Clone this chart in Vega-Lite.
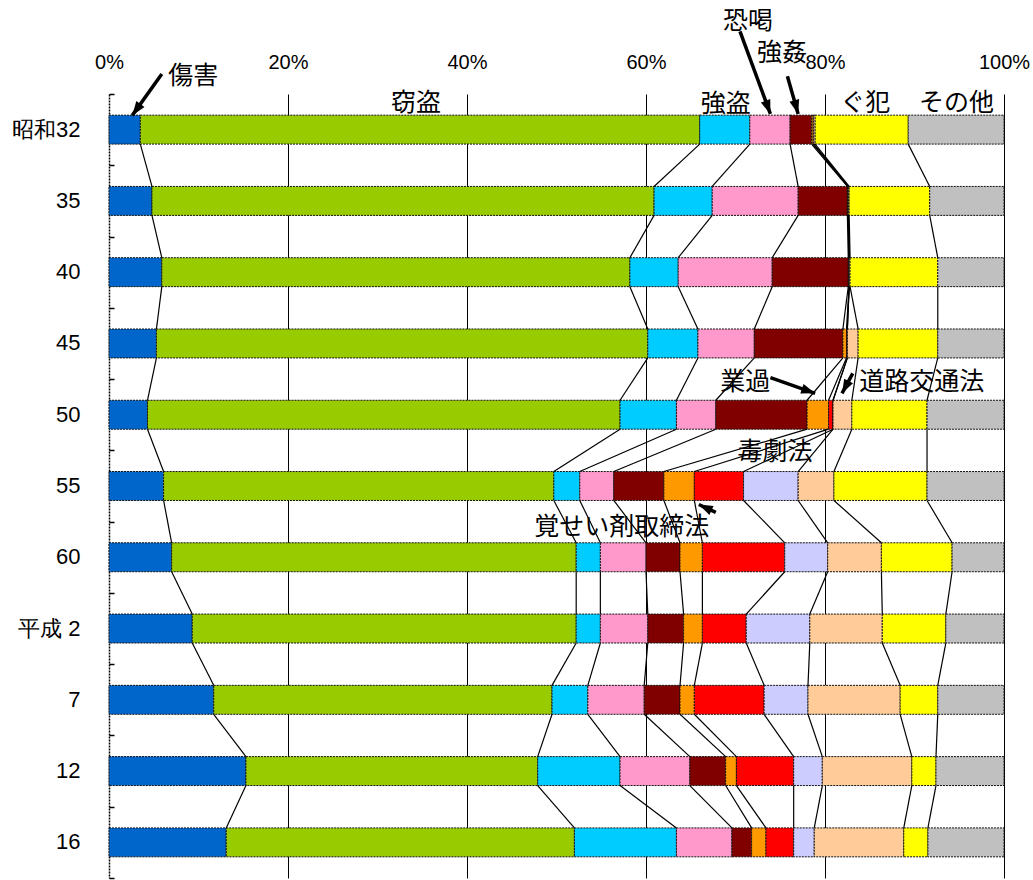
{
  "$schema": "https://vega.github.io/schema/vega-lite/v6.json",
  "width": 895,
  "height": 784,
  "autosize": {"type": "none"},
  "padding": {"left": 109, "top": 94, "right": 29, "bottom": 2},
  "background": "white",
  "config": {"view": {"stroke": null}, "font": "Liberation Sans"},
  "datasets": {
    "shares": [
      {"year":"昭和32","r":0,"cat":"傷害","k":0,"v":3.5},{"year":"昭和32","r":0,"cat":"窃盗","k":1,"v":62.5},{"year":"昭和32","r":0,"cat":"強盗","k":2,"v":5.6},{"year":"昭和32","r":0,"cat":"恐喝","k":3,"v":4.5},{"year":"昭和32","r":0,"cat":"強姦","k":4,"v":2.4},{"year":"昭和32","r":0,"cat":"業過","k":5,"v":0.2},{"year":"昭和32","r":0,"cat":"覚せい剤取締法","k":6,"v":0},{"year":"昭和32","r":0,"cat":"毒劇法","k":7,"v":0},{"year":"昭和32","r":0,"cat":"道路交通法","k":8,"v":0.2},{"year":"昭和32","r":0,"cat":"ぐ犯","k":9,"v":10.4},{"year":"昭和32","r":0,"cat":"その他","k":10,"v":10.7},
      {"year":"35","r":1,"cat":"傷害","k":0,"v":4.8},{"year":"35","r":1,"cat":"窃盗","k":1,"v":56.1},{"year":"35","r":1,"cat":"強盗","k":2,"v":6.5},{"year":"35","r":1,"cat":"恐喝","k":3,"v":9.6},{"year":"35","r":1,"cat":"強姦","k":4,"v":5.5},{"year":"35","r":1,"cat":"業過","k":5,"v":0.1},{"year":"35","r":1,"cat":"覚せい剤取締法","k":6,"v":0},{"year":"35","r":1,"cat":"毒劇法","k":7,"v":0},{"year":"35","r":1,"cat":"道路交通法","k":8,"v":0.1},{"year":"35","r":1,"cat":"ぐ犯","k":9,"v":9.0},{"year":"35","r":1,"cat":"その他","k":10,"v":8.3},
      {"year":"40","r":2,"cat":"傷害","k":0,"v":5.9},{"year":"40","r":2,"cat":"窃盗","k":1,"v":52.3},{"year":"40","r":2,"cat":"強盗","k":2,"v":5.4},{"year":"40","r":2,"cat":"恐喝","k":3,"v":10.5},{"year":"40","r":2,"cat":"強姦","k":4,"v":8.5},{"year":"40","r":2,"cat":"業過","k":5,"v":0.1},{"year":"40","r":2,"cat":"覚せい剤取締法","k":6,"v":0},{"year":"40","r":2,"cat":"毒劇法","k":7,"v":0},{"year":"40","r":2,"cat":"道路交通法","k":8,"v":0.1},{"year":"40","r":2,"cat":"ぐ犯","k":9,"v":9.8},{"year":"40","r":2,"cat":"その他","k":10,"v":7.4},
      {"year":"45","r":3,"cat":"傷害","k":0,"v":5.3},{"year":"45","r":3,"cat":"窃盗","k":1,"v":54.9},{"year":"45","r":3,"cat":"強盗","k":2,"v":5.6},{"year":"45","r":3,"cat":"恐喝","k":3,"v":6.3},{"year":"45","r":3,"cat":"強姦","k":4,"v":9.9},{"year":"45","r":3,"cat":"業過","k":5,"v":0.4},{"year":"45","r":3,"cat":"覚せい剤取締法","k":6,"v":0.1},{"year":"45","r":3,"cat":"毒劇法","k":7,"v":0},{"year":"45","r":3,"cat":"道路交通法","k":8,"v":1.2},{"year":"45","r":3,"cat":"ぐ犯","k":9,"v":8.9},{"year":"45","r":3,"cat":"その他","k":10,"v":7.4},
      {"year":"50","r":4,"cat":"傷害","k":0,"v":4.3},{"year":"50","r":4,"cat":"窃盗","k":1,"v":52.8},{"year":"50","r":4,"cat":"強盗","k":2,"v":6.3},{"year":"50","r":4,"cat":"恐喝","k":3,"v":4.4},{"year":"50","r":4,"cat":"強姦","k":4,"v":10.2},{"year":"50","r":4,"cat":"業過","k":5,"v":2.4},{"year":"50","r":4,"cat":"覚せい剤取締法","k":6,"v":0.5},{"year":"50","r":4,"cat":"毒劇法","k":7,"v":0},{"year":"50","r":4,"cat":"道路交通法","k":8,"v":2.1},{"year":"50","r":4,"cat":"ぐ犯","k":9,"v":8.4},{"year":"50","r":4,"cat":"その他","k":10,"v":8.6},
      {"year":"55","r":5,"cat":"傷害","k":0,"v":6.1},{"year":"55","r":5,"cat":"窃盗","k":1,"v":43.6},{"year":"55","r":5,"cat":"強盗","k":2,"v":2.9},{"year":"55","r":5,"cat":"恐喝","k":3,"v":3.8},{"year":"55","r":5,"cat":"強姦","k":4,"v":5.6},{"year":"55","r":5,"cat":"業過","k":5,"v":3.4},{"year":"55","r":5,"cat":"覚せい剤取締法","k":6,"v":5.5},{"year":"55","r":5,"cat":"毒劇法","k":7,"v":6.1},{"year":"55","r":5,"cat":"道路交通法","k":8,"v":4.0},{"year":"55","r":5,"cat":"ぐ犯","k":9,"v":10.4},{"year":"55","r":5,"cat":"その他","k":10,"v":8.6},
      {"year":"60","r":6,"cat":"傷害","k":0,"v":7.0},{"year":"60","r":6,"cat":"窃盗","k":1,"v":45.2},{"year":"60","r":6,"cat":"強盗","k":2,"v":2.7},{"year":"60","r":6,"cat":"恐喝","k":3,"v":5.1},{"year":"60","r":6,"cat":"強姦","k":4,"v":3.8},{"year":"60","r":6,"cat":"業過","k":5,"v":2.5},{"year":"60","r":6,"cat":"覚せい剤取締法","k":6,"v":9.2},{"year":"60","r":6,"cat":"毒劇法","k":7,"v":4.8},{"year":"60","r":6,"cat":"道路交通法","k":8,"v":6.0},{"year":"60","r":6,"cat":"ぐ犯","k":9,"v":7.9},{"year":"60","r":6,"cat":"その他","k":10,"v":5.8},
      {"year":"平成 2","r":7,"cat":"傷害","k":0,"v":9.3},{"year":"平成 2","r":7,"cat":"窃盗","k":1,"v":42.9},{"year":"平成 2","r":7,"cat":"強盗","k":2,"v":2.7},{"year":"平成 2","r":7,"cat":"恐喝","k":3,"v":5.3},{"year":"平成 2","r":7,"cat":"強姦","k":4,"v":4.0},{"year":"平成 2","r":7,"cat":"業過","k":5,"v":2.1},{"year":"平成 2","r":7,"cat":"覚せい剤取締法","k":6,"v":4.9},{"year":"平成 2","r":7,"cat":"毒劇法","k":7,"v":7.1},{"year":"平成 2","r":7,"cat":"道路交通法","k":8,"v":8.1},{"year":"平成 2","r":7,"cat":"ぐ犯","k":9,"v":7.1},{"year":"平成 2","r":7,"cat":"その他","k":10,"v":6.5},
      {"year":"7","r":8,"cat":"傷害","k":0,"v":11.7},{"year":"7","r":8,"cat":"窃盗","k":1,"v":37.8},{"year":"7","r":8,"cat":"強盗","k":2,"v":4.0},{"year":"7","r":8,"cat":"恐喝","k":3,"v":6.3},{"year":"7","r":8,"cat":"強姦","k":4,"v":4.0},{"year":"7","r":8,"cat":"業過","k":5,"v":1.6},{"year":"7","r":8,"cat":"覚せい剤取締法","k":6,"v":7.8},{"year":"7","r":8,"cat":"毒劇法","k":7,"v":4.9},{"year":"7","r":8,"cat":"道路交通法","k":8,"v":10.3},{"year":"7","r":8,"cat":"ぐ犯","k":9,"v":4.2},{"year":"7","r":8,"cat":"その他","k":10,"v":7.4},
      {"year":"12","r":9,"cat":"傷害","k":0,"v":15.3},{"year":"12","r":9,"cat":"窃盗","k":1,"v":32.6},{"year":"12","r":9,"cat":"強盗","k":2,"v":9.2},{"year":"12","r":9,"cat":"恐喝","k":3,"v":7.8},{"year":"12","r":9,"cat":"強姦","k":4,"v":4.0},{"year":"12","r":9,"cat":"業過","k":5,"v":1.2},{"year":"12","r":9,"cat":"覚せい剤取締法","k":6,"v":6.4},{"year":"12","r":9,"cat":"毒劇法","k":7,"v":3.2},{"year":"12","r":9,"cat":"道路交通法","k":8,"v":10.0},{"year":"12","r":9,"cat":"ぐ犯","k":9,"v":2.7},{"year":"12","r":9,"cat":"その他","k":10,"v":7.6},
      {"year":"16","r":10,"cat":"傷害","k":0,"v":13.1},{"year":"16","r":10,"cat":"窃盗","k":1,"v":38.9},{"year":"16","r":10,"cat":"強盗","k":2,"v":11.4},{"year":"16","r":10,"cat":"恐喝","k":3,"v":6.2},{"year":"16","r":10,"cat":"強姦","k":4,"v":2.2},{"year":"16","r":10,"cat":"業過","k":5,"v":1.6},{"year":"16","r":10,"cat":"覚せい剤取締法","k":6,"v":3.1},{"year":"16","r":10,"cat":"毒劇法","k":7,"v":2.3},{"year":"16","r":10,"cat":"道路交通法","k":8,"v":10.0},{"year":"16","r":10,"cat":"ぐ犯","k":9,"v":2.7},{"year":"16","r":10,"cat":"その他","k":10,"v":8.5}
    ],
    "notes": [
      {"label":"傷害","x":9.4,"row":-0.75},
      {"label":"窃盗","x":34.3,"row":-0.37},
      {"label":"強盗","x":68.9,"row":-0.36},
      {"label":"恐喝","x":71.4,"row":-1.53},
      {"label":"強姦","x":75.2,"row":-1.07},
      {"label":"ぐ犯","x":84.5,"row":-0.37},
      {"label":"その他","x":94.7,"row":-0.37},
      {"label":"業過","x":71.1,"row":3.54},
      {"label":"道路交通法","x":90.8,"row":3.54},
      {"label":"毒劇法","x":74.4,"row":4.52},
      {"label":"覚せい剤取締法","x":57.3,"row":5.57}
    ],
    "arrows": [
      {"for":"傷害","x":5.9,"row":-0.78,"x2":2.6,"row2":-0.2,"dir":215.5},
      {"for":"恐喝","x":70.5,"row":-1.38,"x2":73.9,"row2":-0.22,"dir":159.8},
      {"for":"強姦","x":75.8,"row":-0.75,"x2":77.0,"row2":-0.22,"dir":164.2},
      {"for":"業過","x":73.9,"row":3.48,"x2":78.9,"row2":3.7,"dir":109.3},
      {"for":"道路交通法","x":83.1,"row":3.42,"x2":81.9,"row2":3.7,"dir":208.2},
      {"for":"覚せい剤取締法","x":67.8,"row":5.37,"x2":65.9,"row2":5.26,"dir":294.9}
    ],
    "bounds": [
      {"b":-0.5},{"b":0.5},{"b":1.5},{"b":2.5},{"b":3.5},{"b":4.5},{"b":5.5},{"b":6.5},{"b":7.5},{"b":8.5},{"b":9.5},{"b":10.5}
    ]
  },
  "layer": [
    {
      "data": {"name": "shares"},
      "layer": [
        {
          "mark": {"type": "bar", "stroke": "#111111", "strokeWidth": 1, "strokeDash": [2, 1]},
          "encoding": {
            "y": {
              "field": "year", "type": "nominal",
              "scale": {"domain": ["昭和32","35","40","45","50","55","60","平成 2","7","12","16"], "paddingInner": 0.594, "paddingOuter": 0.297},
              "axis": {"title": null, "orient": "left", "labelFont": "Liberation Sans", "labelFontSize": 22, "labelColor": "black", "domain": true, "domainColor": "black", "domainDash": [2, 1], "domainWidth": 1.5, "ticks": false, "labelPadding": 29, "labelAlign": "right"}
            },
            "x": {
              "field": "v", "type": "quantitative", "stack": "zero",
              "scale": {"domain": [0, 100], "nice": false},
              "axis": {"title": null, "orient": "top", "values": [0, 20, 40, 60, 80, 100], "labelExpr": "datum.value + '%'", "grid": true, "gridColor": {"condition": {"test": "datum.value === 0", "value": "transparent"}, "value": "black"}, "gridWidth": 1, "domain": false, "ticks": false, "labelPadding": 22, "labelFontSize": 20, "labelFont": "Liberation Sans", "labelColor": "black", "labelFlush": false, "labelOverlap": false}
            },
            "color": {
              "field": "cat", "type": "nominal",
              "scale": {"domain": ["傷害","窃盗","強盗","恐喝","強姦","業過","覚せい剤取締法","毒劇法","道路交通法","ぐ犯","その他"],
                        "range": ["#0066CC","#99CC00","#00CCFF","#FF99CC","#800000","#FF9900","#FF0000","#CCCCFF","#FFCC99","#FFFF00","#C0C0C0"]},
              "legend": null
            },
            "order": {"field": "k", "type": "quantitative"}
          }
        },
        {
          "transform": [
            {"stack": "v", "groupby": ["year"], "sort": [{"field": "k", "order": "ascending"}], "as": ["c0", "c1"]},
            {"window": [{"op": "lead", "field": "c1", "as": "c1n"}, {"op": "lead", "field": "year", "as": "yearn"}], "groupby": ["cat"], "sort": [{"field": "r", "order": "ascending"}]},
            {"filter": "datum.yearn != null && datum.cat != 'その他'"}
          ],
          "mark": {"type": "rule", "color": "black", "strokeWidth": 1.2},
          "encoding": {
            "x": {"field": "c1", "type": "quantitative"},
            "x2": {"field": "c1n"},
            "y": {"field": "year", "type": "nominal", "bandPosition": 1},
            "y2": {"field": "yearn", "bandPosition": 0}
          }
        }
      ]
    },
    {
      "layer": [
        {
          "data": {"name": "bounds"},
          "mark": {"type": "tick", "opacity": 0},
          "encoding": {
            "y": {"field": "b", "type": "quantitative",
                  "scale": {"domain": [-0.5, 10.5], "reverse": true, "nice": false, "zero": false},
                  "axis": {"orient": "right", "offset": -895, "title": null, "labels": false, "domain": false, "ticks": true, "tickSize": 5, "tickWidth": 1.5, "tickColor": "black", "values": [-0.5, 0.5, 1.5, 2.5, 3.5, 4.5, 5.5, 6.5, 7.5, 8.5, 9.5, 10.5], "grid": false}}
          }
        },
        {
          "data": {"name": "notes"},
          "mark": {"type": "text", "font": "Noto Sans CJK JP", "fontSize": 25, "color": "black", "align": "center", "baseline": "middle"},
          "encoding": {
            "x": {"field": "x", "type": "quantitative"},
            "y": {"field": "row", "type": "quantitative"},
            "text": {"field": "label"}
          }
        },
        {
          "data": {"name": "arrows"},
          "mark": {"type": "rule", "color": "black", "strokeWidth": 3.5},
          "encoding": {
            "x": {"field": "x", "type": "quantitative"},
            "x2": {"field": "x2"},
            "y": {"field": "row", "type": "quantitative"},
            "y2": {"field": "row2"}
          }
        },
        {
          "data": {"name": "arrows"},
          "mark": {"type": "point", "filled": true, "color": "black", "opacity": 1, "size": 400, "shape": "M0,0L0.5,1.4L-0.5,1.4Z"},
          "encoding": {
            "x": {"field": "x2", "type": "quantitative"},
            "y": {"field": "row2", "type": "quantitative"},
            "angle": {"field": "dir", "type": "quantitative", "scale": null}
          }
        }
      ]
    }
  ],
  "resolve": {"scale": {"y": "independent"}}
}
